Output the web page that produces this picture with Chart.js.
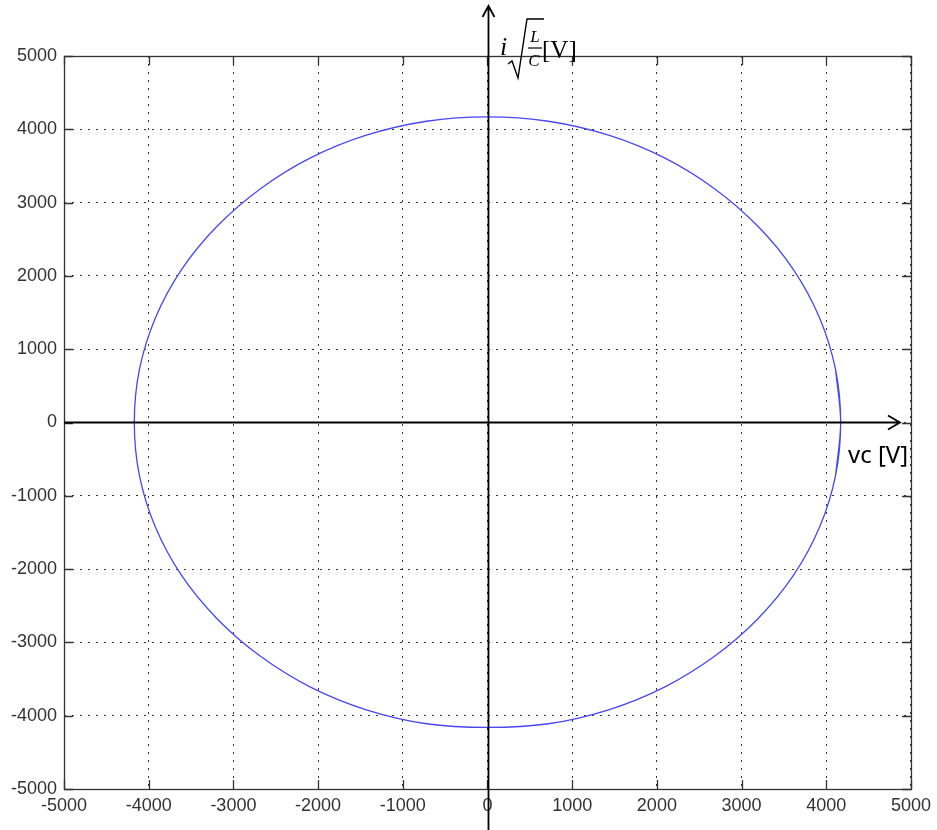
<!DOCTYPE html>
<html>
<head>
<meta charset="utf-8">
<script src="https://cdn.jsdelivr.net/npm/chart.js@4.4.1/dist/chart.umd.min.js"></script>
<style>
  html, body { margin: 0; padding: 0; background: #fff; }
  #wrap { width: 937px; height: 830px; position: relative; }
</style>
</head>
<body>
<div id="wrap"><canvas id="phase"></canvas></div>
<script>
'use strict';

// tick values, both axes
const tickValues = [-5000, -4000, -3000, -2000, -1000, 0, 1000, 2000, 3000, 4000, 5000];

// trajectory: capacitor voltage vc [V] and i*sqrt(L/C) [V]
// (the loop runs a little past its start so the curve closes smoothly)
const vcValues = [
  4110, 4170, 4110, 3920, 3610, 3190, 2680, 2090, 1430, 720, 0,
  -720, -1430, -2090, -2680, -3190, -3610, -3920, -4110, -4170,
  -4110, -3920, -3610, -3190, -2680, -2090, -1430, -720, 0,
  720, 1430, 2090, 2680, 3190, 3610, 3920, 4110, 4170, 4110
];
const iValues = [
  -720, 0, 720, 1430, 2090, 2680, 3190, 3610, 3920, 4110, 4170,
  4110, 3920, 3610, 3190, 2680, 2090, 1430, 720, 0,
  -720, -1430, -2090, -2680, -3190, -3610, -3920, -4110, -4160,
  -4110, -3920, -3610, -3190, -2680, -2090, -1430, -720, 0, 720
];

const points = vcValues.map((v, k) => ({ x: v, y: iValues[k] }));

// frame, inner tick marks, arrowed axes through the origin and axis captions
const decorations = {
  id: 'decorations',
  afterDatasetsDraw(chart) {
    const { ctx, chartArea: a, scales: { x, y } } = chart;
    ctx.save();

    // inner tick marks
    ctx.strokeStyle = '#333';
    ctx.lineWidth = 1.3;
    ctx.beginPath();
    tickValues.forEach(t => {
      const px = Math.round(x.getPixelForValue(t)) + 0.5;
      const py = Math.round(y.getPixelForValue(t)) + 0.5;
      ctx.moveTo(px, a.bottom); ctx.lineTo(px, a.bottom - 9);
      ctx.moveTo(px, a.top); ctx.lineTo(px, a.top + 9);
      ctx.moveTo(a.left, py); ctx.lineTo(a.left + 9, py);
      ctx.moveTo(a.right, py); ctx.lineTo(a.right - 9, py);
    });
    ctx.stroke();

    // frame
    ctx.strokeRect(a.left + 0.5, a.top + 0.5, a.right - a.left, a.bottom - a.top);

    // axes through zero
    const x0 = x.getPixelForValue(0) + 1;
    const y0 = y.getPixelForValue(0);
    const tipX = x.getPixelForValue(4870);
    ctx.strokeStyle = '#000';
    ctx.lineWidth = 1.8;
    ctx.beginPath();
    ctx.moveTo(a.left, y0); ctx.lineTo(tipX, y0);
    ctx.moveTo(tipX - 12, y0 - 7); ctx.lineTo(tipX, y0); ctx.lineTo(tipX - 12, y0 + 7);
    ctx.moveTo(x0, chart.height); ctx.lineTo(x0, 6);
    ctx.moveTo(x0 - 6, 17); ctx.lineTo(x0, 6); ctx.lineTo(x0 + 6, 17);
    ctx.stroke();

    // horizontal axis caption
    ctx.fillStyle = '#000';
    ctx.font = '24px "Noto Sans"';
    ctx.textAlign = 'left';
    ctx.textBaseline = 'alphabetic';
    ctx.fillText('vc [V]', 848, 463);

    // vertical axis caption: i sqrt(L/C) [V]
    ctx.font = 'italic 26px "Liberation Serif"';
    ctx.fillText('i', 500, 55);
    ctx.lineWidth = 1.4;
    ctx.beginPath();
    ctx.moveTo(508, 64); ctx.lineTo(512, 61); ctx.lineTo(518, 78);
    ctx.lineTo(527, 19); ctx.lineTo(544, 19);
    ctx.stroke();
    ctx.font = 'italic 17px "Liberation Serif"';
    ctx.textAlign = 'center';
    ctx.fillText('L', 535, 42);
    ctx.fillText('C', 534, 66);
    ctx.lineWidth = 1.2;
    ctx.beginPath();
    ctx.moveTo(528, 48); ctx.lineTo(542, 48);
    ctx.stroke();
    ctx.font = '25px "Liberation Serif"';
    ctx.textAlign = 'left';
    ctx.fillText('[V]', 542, 58);

    ctx.restore();
  }
};

const axisFont = { family: '"Liberation Sans", Arial, sans-serif', size: 18 };
const gridDots = { display: false, dash: [2, 6] };

new Chart(document.getElementById('phase'), {
  type: 'scatter',
  data: {
    datasets: [{
      data: points,
      showLine: true,
      borderColor: '#4848f2',
      borderWidth: 1.3,
      pointRadius: 0,
      tension: 0.33,
      fill: false
    }]
  },
  options: {
    responsive: true,
    maintainAspectRatio: false,
    animation: false,
    layout: { padding: { top: 56, right: 21, left: 0, bottom: 0 } },
    plugins: {
      legend: { display: false },
      tooltip: { enabled: false }
    },
    scales: {
      x: {
        type: 'linear',
        min: -5000,
        max: 5000,
        afterFit: s => { s.height = 41; },
        afterBuildTicks: s => { s.ticks = tickValues.map(v => ({ value: v })); },
        ticks: { color: '#333', font: axisFont, padding: 6, maxRotation: 0, autoSkip: false, callback: v => String(v) },
        grid: { color: '#333', lineWidth: 1, drawTicks: false },
        border: gridDots
      },
      y: {
        type: 'linear',
        min: -5000,
        max: 5000,
        afterFit: s => { s.width = 64; },
        afterBuildTicks: s => { s.ticks = tickValues.map(v => ({ value: v })); },
        ticks: { color: '#333', font: axisFont, padding: 7, autoSkip: false, callback: v => String(v) },
        grid: { color: '#333', lineWidth: 1, drawTicks: false },
        border: gridDots
      }
    }
  },
  plugins: [decorations]
});
</script>
</body>
</html>
